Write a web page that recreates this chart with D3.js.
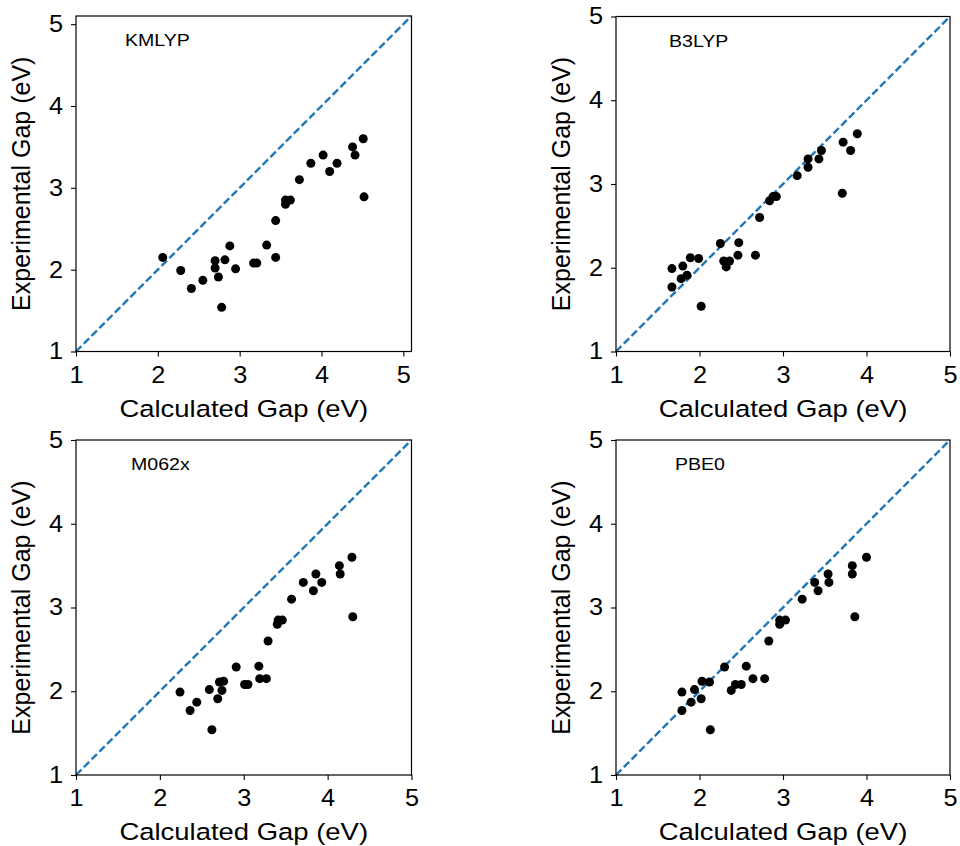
<!DOCTYPE html>
<html>
<head>
<meta charset="utf-8">
<script src="https://cdn.jsdelivr.net/npm/d3@7"></script>
<style>
  body { margin: 0; background: #fff; }
  svg text { font-family: "Liberation Sans", Arial, Helvetica, sans-serif; fill: #000; }
</style>
</head>
<body>
<div class="content"></div>
<script>
// experimental gaps (shared by every panel), eV
var experimental = [3.60, 3.50, 3.40, 3.40, 3.30, 3.30, 3.20, 3.10, 2.89, 2.85, 2.85, 2.80, 2.60, 2.30,
                    2.29, 2.15, 2.15, 2.12, 2.11, 2.08, 2.08, 2.02, 2.01, 1.99, 1.91, 1.87, 1.77, 1.54];
// calculated gaps per functional, same order as experimental
var kmlyp = [4.51, 4.38, 4.41, 4.02, 3.87, 4.19, 4.10, 3.73, 4.52, 3.56, 3.62, 3.56, 3.44, 3.33,
             2.88, 2.06, 3.44, 2.82, 2.70, 3.17, 3.21, 2.70, 2.95, 2.28, 2.74, 2.55, 2.41, 2.78];
var b3lyp = [3.89, 3.72, 3.81, 3.46, 3.30, 3.43, 3.30, 3.17, 3.71, 2.92, 2.88, 2.84, 2.72, 2.47,
             2.25, 2.46, 2.67, 1.89, 1.99, 2.29, 2.36, 1.80, 2.32, 1.67, 1.85, 1.78, 1.67, 2.02];
var m062x = [4.29, 4.14, 4.15, 3.86, 3.71, 3.93, 3.83, 3.57, 4.30, 3.41, 3.46, 3.40, 3.29, 3.18,
             2.91, 3.19, 3.27, 2.76, 2.71, 3.01, 3.05, 2.59, 2.74, 2.24, 2.69, 2.44, 2.36, 2.62];
var pbe0  = [4.00, 3.83, 3.83, 3.54, 3.38, 3.55, 3.42, 3.23, 3.86, 2.96, 3.03, 2.96, 2.83, 2.56,
             2.30, 2.64, 2.78, 2.03, 2.12, 2.43, 2.50, 1.94, 2.38, 1.79, 2.02, 1.90, 1.79, 2.13];
var titles = ["KMLYP", "B3LYP", "M062x", "PBE0"];
var tickValues = [1, 2, 3, 4, 5];
var axisMax = [5.1, 5, 5, 5];

// the reference type is a bit wider than Liberation Sans
function stretch(sel, k) {
  sel.each(function() {
    var w = this.getComputedTextLength();
    d3.select(this).attr("textLength", w * k).attr("lengthAdjust", "spacingAndGlyphs");
  });
}

function render(){
  var width = 960, height = 846;
  var svg = d3.select(".content").append("svg")
      .attr("width", width)
      .attr("height", height);

  var series = [kmlyp, b3lyp, m062x, pbe0];
  // panel boxes: left, top, width, height, title x offset
  var boxes = [
    {left: 76,  top: 16,  w: 335.5, h: 335.5, tx: 49},
    {left: 616, top: 16.5, w: 334, h: 335, tx: 53},
    {left: 76,  top: 440, w: 335.5, h: 335, tx: 55},
    {left: 616, top: 440, w: 334, h: 335, tx: 59}
  ];

  boxes.forEach(function(b, i) {
    var x = d3.scaleLinear().domain([1, axisMax[i]]).range([0, b.w]);
    var y = d3.scaleLinear().domain([1, axisMax[i]]).range([b.h, 0]);

    var g = svg.append("g")
        .attr("transform", "translate(" + b.left + "," + b.top + ")");

    // parity line
    g.append("line")
        .attr("x1", x(1)).attr("y1", y(1))
        .attr("x2", x(axisMax[i])).attr("y2", y(axisMax[i]))
        .attr("stroke", "#1f77b4")
        .attr("stroke-width", 2.4)
        .attr("stroke-dasharray", "7.6,3.4");

    var pts = series[i].map(function(v, k) { return {x: v, y: experimental[k]}; });
    g.selectAll("circle").data(pts).enter().append("circle")
        .attr("cx", function(d) { return x(d.x); })
        .attr("cy", function(d) { return y(d.y); })
        .attr("r", 4.5)
        .attr("fill", "#000");

    var xa = g.append("g")
        .attr("transform", "translate(0," + b.h + ")")
        .call(d3.axisBottom(x).tickValues(tickValues).tickFormat(d3.format("d"))
              .tickSize(5).tickPadding(10));
    var ya = g.append("g")
        .call(d3.axisLeft(y).tickValues(tickValues).tickFormat(d3.format("d"))
              .tickSize(5).tickPadding(8));
    [xa, ya].forEach(function(a) {
      a.select(".domain").remove();
      a.selectAll("line").attr("stroke", "#000").attr("stroke-width", 1.1);
      a.selectAll("text").attr("font-size", 23)
          .attr("font-family", "'Liberation Sans', Arial, sans-serif")
          .call(stretch, 1.1);
    });

    g.append("rect")
        .attr("width", b.w).attr("height", b.h)
        .attr("fill", "none")
        .attr("stroke", "#000")
        .attr("stroke-width", 1.2);

    g.append("text")
        .attr("x", b.tx).attr("y", 30)
        .attr("font-size", 17)
        .text(titles[i])
        .call(stretch, 1.15);

    g.append("text")
        .attr("x", b.w / 2).attr("y", b.h + 65)
        .attr("text-anchor", "middle")
        .attr("font-size", 24.5)
        .text("Calculated Gap (eV)")
        .call(stretch, 1.12);

    g.append("text")
        .attr("transform", "translate(-46," + (b.h / 2) + ") rotate(-90)")
        .attr("text-anchor", "middle")
        .attr("font-size", 25)
        .text("Experimental Gap (eV)");
  });
}
render();
</script>
</body>
</html>
